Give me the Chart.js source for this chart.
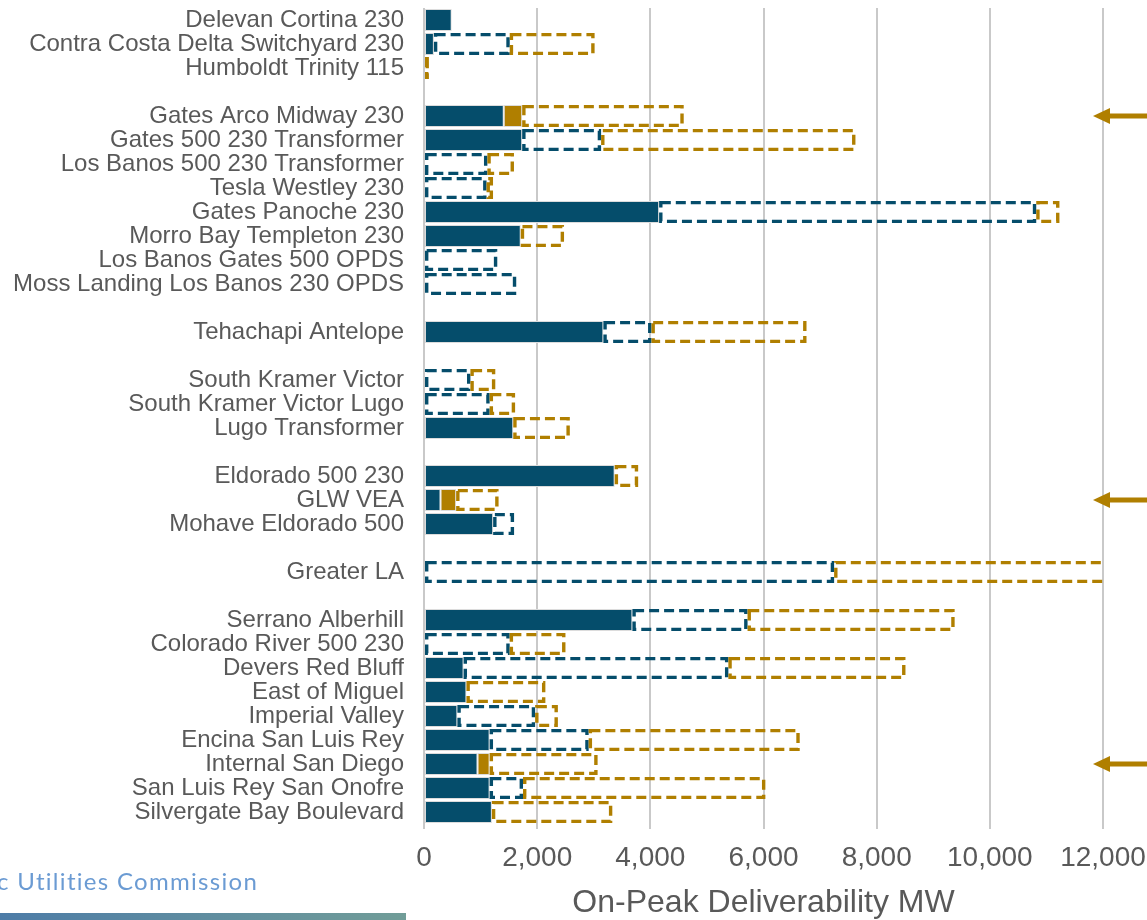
<!DOCTYPE html>
<html>
<head>
<meta charset="utf-8">
<script src="https://cdn.jsdelivr.net/npm/chart.js@4.4.1/dist/chart.umd.min.js"></script>
<style>
  html, body { margin: 0; padding: 0; background: #ffffff; overflow: hidden; }
  #wrap { position: relative; width: 1147px; height: 920px; }
  #c { position: absolute; left: 0; top: 0; }
  #footer { position: absolute; left: -3px; top: 866px; font-family: Lato, "Open Sans", sans-serif; font-size: 24px; color: #6b9bd3; letter-spacing: 1.3px; white-space: nowrap; }
  #bar { position: absolute; left: 0; top: 913px; width: 406px; height: 7px; background: linear-gradient(to right, #4d7ca7, #719d98); }
</style>
</head>
<body>
<div id="wrap">
  <canvas id="c" width="1147" height="920"></canvas>
  <div id="footer">c Utilities Commission</div>
  <div id="bar"></div>
</div>
<script>
const categories = [
  'Delevan Cortina 230', 'Contra Costa Delta Switchyard 230', 'Humboldt Trinity 115', '',
  'Gates Arco Midway 230', 'Gates 500 230 Transformer', 'Los Banos 500 230 Transformer', 'Tesla Westley 230',
  'Gates Panoche 230', 'Morro Bay Templeton 230', 'Los Banos Gates 500 OPDS', 'Moss Landing Los Banos 230 OPDS', '',
  'Tehachapi Antelope', '',
  'South Kramer Victor', 'South Kramer Victor Lugo', 'Lugo Transformer', '',
  'Eldorado 500 230', 'GLW VEA', 'Mohave Eldorado 500', '',
  'Greater LA', '',
  'Serrano Alberhill', 'Colorado River 500 230', 'Devers Red Bluff', 'East of Miguel', 'Imperial Valley',
  'Encina San Luis Rey', 'Internal San Diego', 'San Luis Rey San Onofre', 'Silvergate Bay Boulevard'
];

const navySolid  = [490, 175, 0, 0, 1410, 1735, 0, 0, 4155, 1710, 0, 0, 0, 3170, 0, 0, 0, 1577, 0, 3370, 292, 1222, 0, 0, 0, 3683, 0, 700, 750, 590, 1160, 946, 1160, 1200];
const goldSolid  = [0, 0, 0, 0, 325, 0, 0, 0, 0, 0, 0, 0, 0, 0, 0, 0, 0, 0, 0, 0, 276, 0, 0, 0, 0, 0, 0, 0, 0, 0, 0, 214, 0, 0];
const navyDashed = [0, 1340, 0, 0, 0, 1395, 1120, 1105, 6665, 0, 1295, 1630, 0, 850, 0, 820, 1160, 0, 0, 0, 0, 370, 0, 7248, 0, 2035, 1514, 4679, 0, 1374, 1750, 0, 590, 0];
const goldDashed = [0, 1500, 80, 0, 2855, 4495, 470, 115, 410, 765, 0, 0, 0, 2740, 0, 440, 450, 1000, 0, 415, 750, 0, 0, 4900, 0, 3660, 986, 3130, 1395, 402, 3730, 1908, 4283, 2128];

const arrowRows = ['Gates Arco Midway 230', 'GLW VEA', 'Internal San Diego'];

const xTicks = [0, 2000, 4000, 6000, 8000, 10000, 12000];
const xTitle = 'On-Peak Deliverability MW';

const NAVY = '#054d6b';
const GOLD = '#b07f00';

const dashedPlugin = {
  id: 'dashedBars',
  afterDatasetsDraw(chart) {
    const ctx = chart.ctx;
    const ca = chart.chartArea;
    chart.data.datasets.forEach((ds, di) => {
      if (!ds.dashColor) return;
      const meta = chart.getDatasetMeta(di);
      meta.data.forEach((el, i) => {
        const v = ds.data[i];
        if (!v) return;
        const p = el.getProps(['x', 'y', 'base', 'height'], true);
        const l = Math.min(p.x, p.base), r = Math.max(p.x, p.base);
        const t = p.y - p.height / 2, b = p.y + p.height / 2;
        ctx.save();
        ctx.beginPath();
        ctx.rect(ca.left - 2, ca.top, ca.right - ca.left + 2, ca.bottom - ca.top);
        ctx.clip();
        ctx.setLineDash([10, 5]);
        ctx.lineWidth = 3.4;
        ctx.strokeStyle = ds.dashColor;
        ctx.strokeRect(l + 1.7, t + 1.7, Math.max(r - l - 3.4, 0.5), b - t - 3.4);
        ctx.restore();
      });
    });
  }
};

const arrowPlugin = {
  id: 'arrows',
  afterDraw(chart) {
    const ctx = chart.ctx;
    const ys = chart.scales.y;
    const tipX = chart.chartArea.right - 10;
    ctx.save();
    ctx.fillStyle = GOLD;
    arrowRows.forEach(name => {
      const idx = categories.indexOf(name);
      const y = ys.getPixelForValue(idx);
      ctx.beginPath();
      ctx.moveTo(tipX, y);
      ctx.lineTo(tipX + 17, y - 8);
      ctx.lineTo(tipX + 17, y + 8);
      ctx.closePath();
      ctx.fill();
      ctx.fillRect(tipX + 15, y - 2.5, chart.width - tipX - 15, 5);
    });
    ctx.restore();
  }
};

new Chart(document.getElementById('c'), {
  type: 'bar',
  data: {
    labels: categories,
    datasets: [
      { label: 'Existing', data: navySolid, backgroundColor: NAVY, borderColor: '#dcdcdc', borderWidth: 1, borderSkipped: false },
      { label: 'Gold solid', data: goldSolid, backgroundColor: GOLD, borderColor: '#dcdcdc', borderWidth: 1, borderSkipped: false },
      { label: 'Navy dashed', data: navyDashed, backgroundColor: 'rgba(0,0,0,0)', borderWidth: 0, dashColor: NAVY },
      { label: 'Gold dashed', data: goldDashed, backgroundColor: 'rgba(0,0,0,0)', borderWidth: 0, dashColor: GOLD }
    ]
  },
  options: {
    indexAxis: 'y',
    responsive: false,
    animation: false,
    layout: { padding: { top: 8, left: 0, right: 0, bottom: 0 } },
    plugins: { legend: { display: false }, tooltip: { enabled: false } },
    datasets: { bar: { categoryPercentage: 1.0, barPercentage: 0.92 } },
    scales: {
      x: {
        stacked: true,
        min: 0,
        max: 12000,
        afterBuildTicks(scale) { scale.ticks = xTicks.map(v => ({ value: v })); },
        ticks: {
          color: '#595959',
          font: { family: '"Liberation Sans", Arial, sans-serif', size: 28 },
          padding: 12,
          maxRotation: 0,
          autoSkip: false,
          callback: v => v.toLocaleString('en-US')
        },
        grid: { color: '#c9c9c9', lineWidth: 2, tickLength: 5, drawOnChartArea: true },
        border: { display: false },
        title: {
          display: true,
          text: xTitle,
          color: '#595959',
          font: { family: '"Liberation Sans", Arial, sans-serif', size: 32, lineHeight: 1 },
          padding: { top: 0, bottom: 1 }
        },
        afterFit(scale) { scale.height = 96; scale.paddingRight = 44; scale.paddingLeft = 0; }
      },
      y: {
        stacked: true,
        ticks: {
          color: '#595959',
          font: { family: '"Liberation Sans", Arial, sans-serif', size: 24 },
          padding: 12,
          autoSkip: false
        },
        grid: { display: false },
        border: { display: false },
        afterFit(scale) { scale.width = 424; scale.paddingTop = 0; scale.paddingBottom = 0; }
      }
    }
  },
  plugins: [dashedPlugin, arrowPlugin]
});
</script>
</body>
</html>
